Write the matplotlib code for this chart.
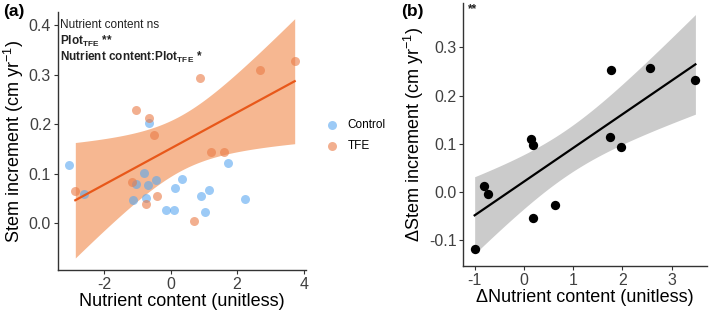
import numpy as np
import matplotlib
matplotlib.use("Agg")
import matplotlib.pyplot as plt

plt.rcParams['font.family'] = ['Liberation Sans', 'DejaVu Sans']
plt.rcParams['mathtext.fontset'] = 'custom'
plt.rcParams['mathtext.rm'] = 'Liberation Sans'
plt.rcParams['mathtext.it'] = 'Liberation Sans:italic'
plt.rcParams['mathtext.bf'] = 'Liberation Sans:bold'
plt.rcParams['axes.unicode_minus'] = False

# panel (a) data
ctrl_x = [-0.64, -3.05, -2.59, -0.80, -1.04, -0.68, -0.44, -1.14, -0.74, 0.35,
          0.13, -0.14, 0.09, 0.92, 1.17, 1.03, 1.73, 2.24]
ctrl_y = [0.204, 0.118, 0.059, 0.102, 0.080, 0.078, 0.088, 0.048, 0.052, 0.090,
          0.071, 0.028, 0.027, 0.055, 0.068, 0.023, 0.122, 0.049]
tfe_x = [0.89, 2.70, 3.73, -1.05, -0.65, -0.50, 1.23, 1.62, -2.86, -1.17, -0.40, -0.74, 0.70]
tfe_y = [0.294, 0.311, 0.329, 0.229, 0.214, 0.179, 0.145, 0.145, 0.065, 0.084, 0.055, 0.040, 0.005]

# panel (b) data
d_x = [1.76, 2.56, 3.48, 0.15, 0.19, 1.75, 1.97, -0.81, -0.72, 0.19, 0.63, -1.00]
d_y = [0.253, 0.258, 0.232, 0.111, 0.098, 0.114, 0.093, 0.013, -0.004, -0.053, -0.026, -0.117]

T975 = {10: 2.228, 11: 2.201}


def lm_band(x, y, tval):
    x = np.asarray(x); y = np.asarray(y)
    n = len(x)
    b, a = np.polyfit(x, y, 1)
    res = y - (a + b * x)
    s = np.sqrt(np.sum(res ** 2) / (n - 2))
    xs = np.linspace(x.min(), x.max(), 100)
    fit = a + b * xs
    se = s * np.sqrt(1 / n + (xs - x.mean()) ** 2 / np.sum((x - x.mean()) ** 2))
    return xs, fit, fit - tval * se, fit + tval * se


def style(ax):
    for s in ['top', 'right']:
        ax.spines[s].set_visible(False)
    for s in ['left', 'bottom']:
        ax.spines[s].set_color('#333333')
        ax.spines[s].set_linewidth(1.0)
    ax.tick_params(labelsize=11.5, colors='#333333', length=3, width=0.8, pad=2)
    ax.tick_params(labelcolor='#404040')


fig = plt.figure(figsize=(7.09, 3.11), dpi=100)

ax1 = fig.add_axes([0.0818, 0.1318, 0.3498, 0.8292])
xs, fit, lo, hi = lm_band(tfe_x, tfe_y, T975[11])
ax1.fill_between(xs, lo, hi, color='#F08848', alpha=0.6, lw=0)
ax1.plot(xs, fit, color='#E8581A', lw=1.6)
ax1.scatter(ctrl_x, ctrl_y, s=42, color='#5AA8F0', alpha=0.6, lw=0, label='Control')
ax1.scatter(tfe_x, tfe_y, s=42, color='#EA7A45', alpha=0.6, lw=0, label='TFE')
ax1.set_xlim(-3.38, 4.07)
ax1.set_ylim(-0.094, 0.427)
ax1.set_xticks([-2, 0, 2, 4])
ax1.set_yticks([0.0, 0.1, 0.2, 0.3, 0.4])
ax1.set_yticklabels(['0.0', '0.1', '0.2', '0.3', '0.4'])
style(ax1)
ax1.set_xlabel('Nutrient content (unitless)', fontsize=13, labelpad=1)
ax1.set_ylabel('Stem increment (cm yr$^{-1}$)', fontsize=13, labelpad=2)
ax1.text(0.01, 0.975, 'Nutrient content ns', transform=ax1.transAxes, fontsize=8.5,
         va='top', ha='left', color='#222222')
ax1.text(0.01, 0.915, r'$\mathbf{Plot_{TFE}}$ **', transform=ax1.transAxes, fontsize=8.5,
         va='top', ha='left', fontweight='bold', color='#222222')
ax1.text(0.01, 0.855, r'Nutrient content:$\mathbf{Plot_{TFE}}$ *', transform=ax1.transAxes,
         fontsize=8.5, va='top', ha='left', fontweight='bold', color='#222222')
leg = ax1.legend(loc='center left', bbox_to_anchor=(1.04, 0.52), frameon=False,
                 fontsize=8.5, handletextpad=0.3, labelspacing=0.75, borderaxespad=0)
fig.text(0.004, 0.962, '(a)', fontsize=12.5, fontweight='bold', va='center')

ax2 = fig.add_axes([0.6535, 0.1447, 0.3433, 0.8453])
xs, fit, lo, hi = lm_band(d_x, d_y, T975[10])
ax2.fill_between(xs, lo, hi, color='#BEBEBE', alpha=0.8, lw=0)
ax2.plot(xs, fit, color='black', lw=1.6)
ax2.scatter(d_x, d_y, s=45, color='black', lw=0, zorder=3)
ax2.set_xlim(-1.23, 3.71)
ax2.set_ylim(-0.153, 0.392)
ax2.set_xticks([-1, 0, 1, 2, 3])
ax2.set_yticks([-0.1, 0.0, 0.1, 0.2, 0.3])
ax2.set_yticklabels(['-0.1', '0.0', '0.1', '0.2', '0.3'])
style(ax2)
ax2.set_xlabel('\u0394Nutrient content (unitless)', fontsize=13, labelpad=1)
ax2.set_ylabel('\u0394Stem increment (cm yr$^{-1}$)', fontsize=13, labelpad=2)
ax2.text(0.02, 1.0, '**', transform=ax2.transAxes, fontsize=8.5, va='top', ha='left',
         fontweight='bold', color='#222222')
fig.text(0.566, 0.962, '(b)', fontsize=12.5, fontweight='bold', va='center')

fig.savefig('out.png', dpi=100)
